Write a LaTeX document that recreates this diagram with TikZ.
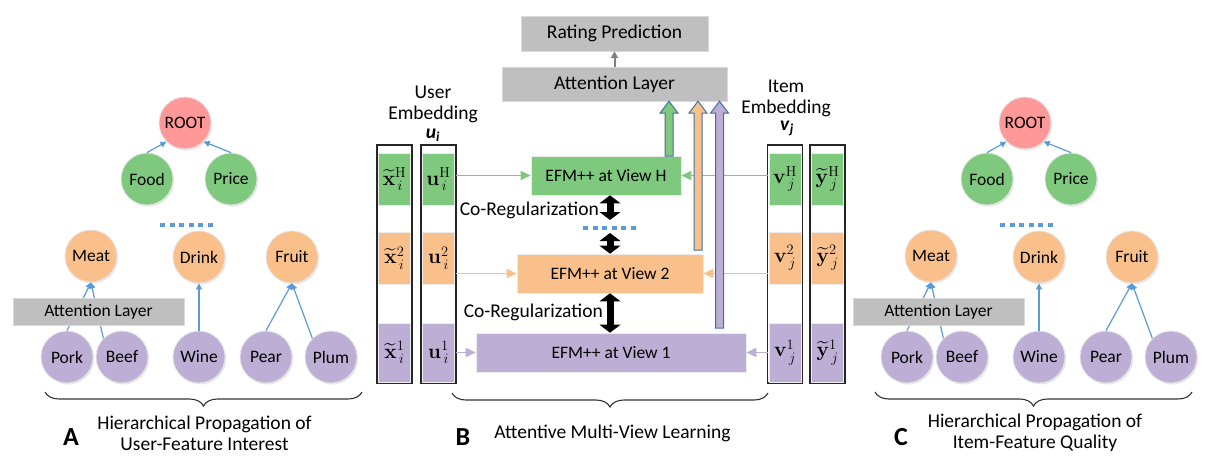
\documentclass[tikz,border=0pt]{standalone}
\usepackage{amsmath,amssymb}
\usepackage[no-math]{fontspec}
\setmainfont{Carlito}
\usepackage{tikz}
\usetikzlibrary{positioning,calc,arrows.meta,shadows,decorations.pathreplacing}
\definecolor{rootred}{RGB}{255,153,153}
\definecolor{featgreen}{RGB}{127,201,127}
\definecolor{featorange}{RGB}{250,192,140}
\definecolor{featpurple}{RGB}{188,174,212}
\definecolor{boxgray}{RGB}{191,191,191}
\definecolor{edgeblue}{RGB}{91,155,213}
\definecolor{baroutline}{RGB}{65,113,156}
\newcommand{\bigfont}{\fontsize{19.5}{21}\selectfont}
\newcommand{\smallfont}{\fontsize{17.5}{19}\selectfont}
\tikzstyle{feat}=[circle,minimum size=52pt,inner sep=0pt,draw=white!80!gray,line width=0.8pt,font=\smallfont,drop shadow={opacity=0.2,shadow xshift=1.2pt,shadow yshift=-1.5pt}]
\tikzstyle{rootfeat}=[feat,fill=rootred]
\tikzstyle{catfeat}=[feat,fill=featgreen]
\tikzstyle{subfeat}=[feat,fill=featorange]
\tikzstyle{leaffeat}=[feat,fill=featpurple]
\tikzstyle{graybox}=[rectangle,fill=boxgray,draw=white!85!black,inner sep=0pt]
\tikzstyle{txt}=[inner sep=0pt,font=\bigfont]
\tikzstyle{mypath}=[draw=edgeblue,line width=1.2pt,-{Triangle[length=6pt,width=6pt]}]
\tikzstyle{graypath}=[draw=black!50,line width=2pt,-{Triangle[length=7pt,width=7pt]}]
\tikzstyle{dotline}=[draw=edgeblue,line width=4pt,dash pattern=on 5pt off 4.6pt]
\tikzstyle{embcol}=[draw=black!85,line width=1.2pt]
\tikzstyle{cell}=[rectangle,inner sep=0pt,minimum width=32pt,draw=white!85!gray,line width=0.6pt,font=\fontsize{20.74}{22}\selectfont]
\tikzstyle{efm}=[rectangle,inner sep=0pt,minimum height=39pt,draw=white!85!gray,line width=0.6pt,font=\smallfont]
\tikzstyle{viewpath}=[line width=1.6pt,-{Triangle[length=10pt,width=9pt]}]
\tikzstyle{coreg}=[line width=7pt,{Triangle[length=8pt,width=21pt,line width=0pt]}-{Triangle[length=8pt,width=21pt,line width=0pt]}]
\tikzstyle{bar}=[draw=baroutline,line width=1pt]
\tikzstyle{bracepath}=[decorate,decoration={brace,mirror,amplitude=14pt},draw=black!80,line width=1.1pt]
\newcommand{\barup}[3]{%
  \draw[bar,fill=#1] let \p1=(#2), \p2=(#3) in
    (\x1-4pt,\y1) -- (\x1-4pt,\y2-12pt) -- (\x1-9pt,\y2-12pt) -- (\x1,\y2)
    -- (\x1+9pt,\y2-12pt) -- (\x1+4pt,\y2-12pt) -- (\x1+4pt,\y1) -- cycle;}
\begin{document}
\begin{tikzpicture}[x=1pt,y=-1pt]
\useasboundingbox (0,0) rectangle (1228,467);

% the two feature hierarchies
\foreach \p/\dx in {a/0,c/840}{
  \begin{scope}[xshift=\dx]
    \node[rootfeat] (\p-root) at (185,123) {ROOT};
    \node[catfeat] (\p-food) at (147,179) {Food};
    \node[catfeat] (\p-price) at (231,179) {Price};
    \node[subfeat] (\p-meat) at (91,256) {Meat};
    \node[subfeat] (\p-drink) at (199,257) {Drink};
    \node[subfeat] (\p-fruit) at (292,257) {Fruit};
    \node[leaffeat] (\p-pork) at (67,357) {Pork};
    \node[leaffeat] (\p-beef) at (122,357) {Beef};
    \node[leaffeat] (\p-wine) at (199,357) {Wine};
    \node[leaffeat] (\p-pear) at (266,357) {Pear};
    \node[leaffeat] (\p-plum) at (331,357) {Plum};
    \draw[dotline] (160,225) -- (213,225);
    \draw[mypath] (\p-food.north) -- (\p-root.225);
    \draw[mypath] (\p-price.north) -- (\p-root.315);
    \draw[mypath] (\p-pork.north) -- (\p-meat.south);
    \draw[mypath] (\p-beef.135) -- (\p-meat.south);
    \draw[mypath] (\p-wine.north) -- (\p-drink.south);
    \draw[mypath] (\p-pear.north) -- (\p-fruit.south);
    \draw[mypath] (\p-plum.135) -- (\p-fruit.south);
    \node[graybox,minimum width=171pt,minimum height=27pt,font=\smallfont] (\p-att) at (98.5,311.5) {Attention Layer};
  \end{scope}
}

% multi-view part
\node[graybox,minimum width=187pt,minimum height=35pt,font=\bigfont] (rating) at (614.5,33.5) {Rating Prediction};
\node[graybox,minimum width=225pt,minimum height=34pt,font=\bigfont] (attn) at (614.5,84) {Attention Layer};
\draw[graypath] (attn) -- (rating);

\node[txt,align=center] (usertxt) at (433,104) {User\\Embedding};
\node[txt] (ui) at (433,135) {\textbf{\textit{u}\textsubscript{\textit{i}}}};
\node[txt,align=center] (itemtxt) at (786,98) {Item\\Embedding};
\node[txt] (vj) at (787,128) {\textbf{\textit{v}\textsubscript{\textit{j}}}};

\foreach \c/\cx/\lab/\s in {x/394.5/{\widetilde{\mathbf{x}}}/i,u/438.5/{\mathbf{u}}/i,v/785/{\mathbf{v}}/j,y/827.5/{\widetilde{\mathbf{y}}}/j}{
  \draw[embcol] (\cx-17.5,145) rectangle (\cx+17.5,383);
  \coordinate (\c col-e) at (\cx+17.5,264);
  \coordinate (\c col-w) at (\cx-17.5,264);
  \node[cell,fill=featgreen,minimum height=52pt] (\c H) at (\cx,179) {$\lab^{\mathrm{H}}_{\,\s}$};
  \node[cell,fill=featorange,minimum height=52pt] (\c 2) at (\cx,258) {$\lab^{2}_{\,\s}$};
  \node[cell,fill=featpurple,minimum height=59pt] (\c 1) at (\cx,352.5) {$\lab^{1}_{\,\s}$};
}

\node[efm,fill=featgreen,minimum width=150pt] (efmH) at (606,175.5) {EFM++ at View H};
\node[efm,fill=featorange,minimum width=186pt] (efm2) at (610,273.5) {EFM++ at View 2};
\node[efm,fill=featpurple,minimum width=270pt] (efm1) at (611,352.5) {EFM++ at View 1};

\draw[viewpath,draw=featgreen,fill=featgreen] (ucol-e |- efmH) -- (efmH);
\draw[viewpath,draw=featgreen,fill=featgreen] (vcol-w |- efmH) -- (efmH);
\draw[viewpath,draw=featorange,fill=featorange] (ucol-e |- efm2) -- (efm2);
\draw[viewpath,draw=featorange,fill=featorange] (vcol-w |- efm2) -- (efm2);
\draw[viewpath,draw=featpurple,fill=featpurple] (ucol-e |- efm1) -- (efm1);
\draw[viewpath,draw=featpurple,fill=featpurple] (vcol-w |- efm1) -- (efm1);

\coordinate (gbot) at (669,156);
\coordinate (obot) at (698,250);
\coordinate (pbot) at (719.5,328);
\barup{featgreen}{gbot}{gbot |- attn.south}
\barup{featorange}{obot}{obot |- attn.south}
\barup{featpurple}{pbot}{pbot |- attn.south}

\coordinate (dots) at (610,228);
\draw[dotline] ([xshift=-27pt]dots) -- ([xshift=27pt]dots);
\draw[coreg] (efmH.south -| dots) -- ([yshift=8pt]dots);
\draw[coreg] ([yshift=-5pt]dots) -- (efm2.north -| dots);
\draw[coreg] (efm2.south -| dots) -- (efm1.north -| dots);
\node[txt,anchor=east] (coregH) at (599,210) {Co-Regularization};
\node[txt,anchor=east] (coreg1) at (603,312) {Co-Regularization};

% braces and captions
\draw[bracepath] (45,392) -- (362,392);
\draw[bracepath] (452,393) -- (768,393);
\draw[bracepath] (875,392) -- (1192,392);
\node[txt,font=\fontsize{26}{26}\selectfont\bfseries] (capA) at (71,437) {A};
\node[txt,font=\fontsize{26}{26}\selectfont\bfseries] (capB) at (463,437) {B};
\node[txt,font=\fontsize{26}{26}\selectfont\bfseries] (capC) at (901,437) {C};
\node[txt,align=center] (textA) at (204.5,433) {Hierarchical Propagation of\\User-Feature Interest};
\node[txt] (textB) at (612.5,433) {Attentive Multi-View Learning};
\node[txt,align=center] (textC) at (1035,433) {Hierarchical Propagation of\\Item-Feature Quality};
\end{tikzpicture}
\end{document}
